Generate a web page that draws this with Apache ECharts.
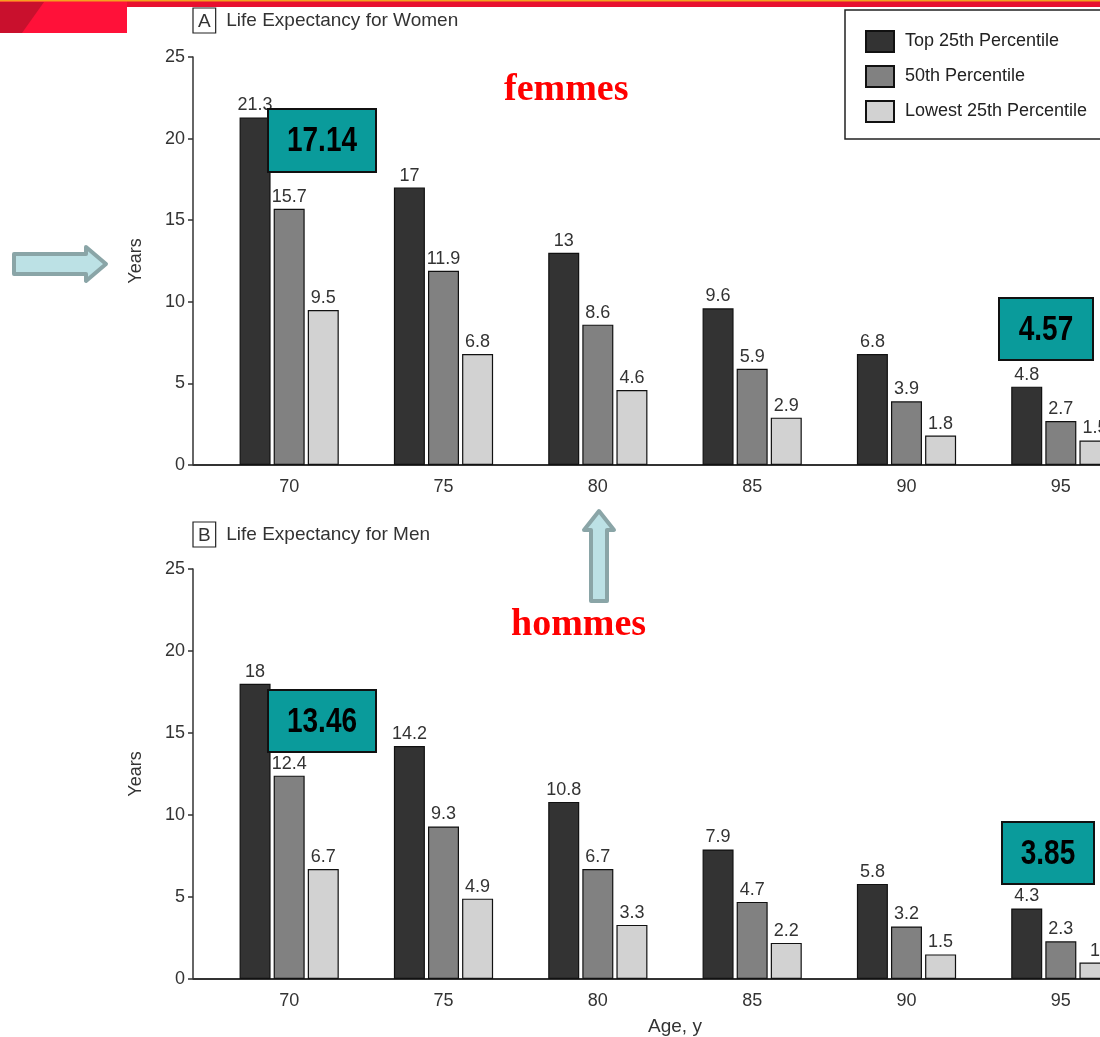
<!DOCTYPE html>
<html>
<head>
<meta charset="utf-8">
<script src="https://cdn.jsdelivr.net/npm/echarts@6/dist/echarts.min.js"></script>
<style>
html,body{margin:0;padding:0;background:#fff;overflow:hidden;}
#chart{width:1100px;height:1037px;}
</style>
</head>
<body>
<div id="chart"></div>
<script>
// ---- data ----
const ages = ['70', '75', '80', '85', '90', '95'];
const seriesNames = ['Top 25th Percentile', '50th Percentile', 'Lowest 25th Percentile'];
const womenTop = [21.3, 17, 13, 9.6, 6.8, 4.8];
const womenMid = [15.7, 11.9, 8.6, 5.9, 3.9, 2.7];
const womenLow = [9.5, 6.8, 4.6, 2.9, 1.8, 1.5];
const menTop = [18, 14.2, 10.8, 7.9, 5.8, 4.3];
const menMid = [12.4, 9.3, 6.7, 4.7, 3.2, 2.3];
const menLow = [6.7, 4.9, 3.3, 2.2, 1.5, 1.0];
const yTicks = [0, 5, 10, 15, 20, 25];
const womenNotes = ['17.14', '4.57'];
const menNotes = ['13.46', '3.85'];

// ---- layout ----
const GL = 212, GW = 926, AXIS_X = 193;
const G1T = 57, G1H = 408, G2T = 569, G2H = 410;
const colors = ['#333333', '#818181', '#d2d2d2'];
const FONT = '"Liberation Sans", Arial, Helvetica, sans-serif';
const TXT = '#333';

const chart = echarts.init(document.getElementById('chart'));

function yAxis(gi) {
  return {
    type: 'value', gridIndex: gi, min: yTicks[0], max: yTicks[yTicks.length - 1], interval: 5,
    offset: GL - AXIS_X,
    name: 'Years', nameLocation: 'middle', nameGap: 48,
    nameTextStyle: { fontSize: 18, color: TXT, fontFamily: FONT },
    axisLine: { show: true, lineStyle: { color: '#333', width: 1.5 } },
    axisTick: { show: true, length: 5, lineStyle: { color: '#333', width: 1.5 } },
    axisLabel: { fontSize: 18, color: TXT, fontFamily: FONT, margin: 8 },
    splitLine: { show: false }
  };
}
function xAxis(gi, withName) {
  const a = {
    type: 'category', gridIndex: gi, data: ages,
    axisLine: { show: true, lineStyle: { color: '#333', width: 2 } },
    axisTick: { show: false },
    axisLabel: { fontSize: 18, color: TXT, fontFamily: FONT, margin: 13 }
  };
  if (withName) {
    a.name = 'Age, y'; a.nameLocation = 'middle'; a.nameGap = 38;
    a.nameTextStyle = { fontSize: 19, color: TXT, fontFamily: FONT };
  }
  return a;
}
function bar(name, data, ci, gi) {
  return {
    type: 'bar', name: name, data: data, xAxisIndex: gi, yAxisIndex: gi,
    barWidth: 31, barGap: '10%',
    itemStyle: { color: colors[ci], borderColor: '#111', borderWidth: 1.2 },
    label: { show: true, position: 'top', distance: 3, fontSize: 18, color: TXT, fontFamily: FONT }
  };
}
function note(text, x, y, w, h) {
  return [
    { type: 'rect', z: 100, shape: { x: x, y: y, width: w, height: h },
      style: { fill: '#0a9b9b', stroke: '#111', lineWidth: 2 } },
    { type: 'text', z: 101, x: x + w / 2, y: y + h / 2 + 1, scaleX: 0.8,
      style: { text: text, fill: '#000', align: 'center', verticalAlign: 'middle',
        font: 'bold 35px "Liberation Sans", Arial, sans-serif' } }
  ];
}
const arrowStyle = { fill: '#bce1e5', stroke: '#8aa5a7', lineWidth: 4, lineJoin: 'round' };
const titleRich = {
  box: { fontSize: 19, color: TXT, fontFamily: FONT, fontWeight: 'normal', borderColor: '#222', borderWidth: 1.2, padding: [4, 5, 2, 5] },
  t: { fontSize: 19, color: TXT, fontFamily: FONT, fontWeight: 'normal' }
};

const option = {
  backgroundColor: '#fff',
  animation: false,
  title: [
    { left: AXIS_X, top: 8, padding: 0, text: '{box|A}{t|  Life Expectancy for Women}',
      textStyle: { fontWeight: 'normal', rich: titleRich } },
    { left: AXIS_X, top: 522, padding: 0, text: '{box|B}{t|  Life Expectancy for Men}',
      textStyle: { fontWeight: 'normal', rich: titleRich } }
  ],
  legend: {
    orient: 'vertical', left: 845, top: 10,
    data: seriesNames,
    backgroundColor: '#fff', borderColor: '#222', borderWidth: 1.5,
    padding: [20, 60, 16, 20],
    itemWidth: 28, itemHeight: 21, itemGap: 12,
    icon: 'rect',
    textStyle: { fontSize: 18, color: '#222', fontFamily: FONT, padding: [0, 0, 0, 6] }
  },
  grid: [
    { left: GL, top: G1T, width: GW, height: G1H, outerBoundsMode: 'none', containLabel: false },
    { left: GL, top: G2T, width: GW, height: G2H, outerBoundsMode: 'none', containLabel: false }
  ],
  xAxis: [xAxis(0, false), xAxis(1, true)],
  yAxis: [yAxis(0), yAxis(1)],
  series: [
    bar(seriesNames[0], womenTop, 0, 0),
    bar(seriesNames[1], womenMid, 1, 0),
    bar(seriesNames[2], womenLow, 2, 0),
    bar(seriesNames[0], menTop, 0, 1),
    bar(seriesNames[1], menMid, 1, 1),
    bar(seriesNames[2], menLow, 2, 1)
  ],
  graphic: [
    // top banner
    { type: 'rect', z: 50, shape: { x: 0, y: 0, width: 1100, height: 7 }, style: { fill: '#e8102f' } },
    { type: 'rect', z: 51, shape: { x: 0, y: 0, width: 1100, height: 1.5 }, style: { fill: '#f4a020' } },
    { type: 'rect', z: 50, shape: { x: 0, y: 0, width: 127, height: 33 }, style: { fill: '#ff1139' } },
    { type: 'polygon', z: 51, shape: { points: [[0, 2], [44, 2], [22, 33], [0, 33]] }, style: { fill: '#c9102d' } },
    // x-axis stubs between y-axis line and grid
    { type: 'line', z: 50, shape: { x1: AXIS_X, y1: G1T + G1H, x2: GL, y2: G1T + G1H }, style: { stroke: '#333', lineWidth: 2 } },
    { type: 'line', z: 50, shape: { x1: AXIS_X, y1: G2T + G2H, x2: GL, y2: G2T + G2H }, style: { stroke: '#333', lineWidth: 2 } },
    // annotations
    ...note(womenNotes[0], 268, 109, 108, 63),
    ...note(womenNotes[1], 999, 298, 94, 62),
    ...note(menNotes[0], 268, 690, 108, 62),
    ...note(menNotes[1], 1002, 822, 92, 62),
    { type: 'text', z: 100, left: 504, top: 71, style: { text: 'femmes', fill: '#ff0000', font: 'bold 38px "Liberation Serif", "Times New Roman", serif' } },
    { type: 'text', z: 100, left: 511, top: 606, style: { text: 'hommes', fill: '#ff0000', font: 'bold 38px "Liberation Serif", "Times New Roman", serif' } },
    // arrows
    { type: 'polygon', z: 100, shape: { points: [[14, 254], [86, 254], [86, 247], [106, 264], [86, 281], [86, 274], [14, 274]] }, style: arrowStyle },
    { type: 'polygon', z: 100, shape: { points: [[591, 601], [591, 530], [584, 530], [599, 511], [614, 530], [607, 530], [607, 601]] }, style: arrowStyle }
  ]
};
chart.setOption(option);
</script>
</body>
</html>
